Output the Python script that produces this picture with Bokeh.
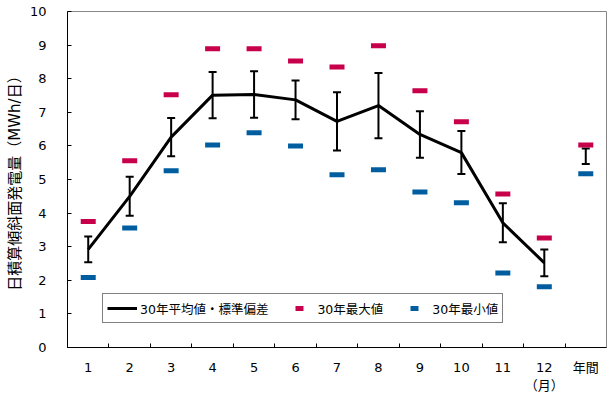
from bokeh.plotting import figure
from bokeh.models import (ColumnDataSource, Whisker, TeeHead, FixedTicker,
                          Legend, LegendItem, Range1d)
from bokeh.embed import file_html
from bokeh.resources import INLINE

# ---- data ----
categories = ["1", "2", "3", "4", "5", "6", "7", "8", "9", "10", "11", "12\n（月）", "年間"]
mean_vals = [2.92, 4.50, 6.26, 7.51, 7.53, 7.37, 6.73, 7.20, 6.34, 5.80, 3.71, 2.52, 5.69]
std_vals = [0.38, 0.58, 0.57, 0.69, 0.69, 0.58, 0.87, 0.97, 0.69, 0.64, 0.58, 0.40, 0.23]
max_vals = [3.75, 5.56, 7.52, 8.89, 8.89, 8.53, 8.35, 8.98, 7.64, 6.72, 4.57, 3.26, 6.03]
min_vals = [2.08, 3.56, 5.26, 6.03, 6.39, 6.00, 5.14, 5.29, 4.63, 4.31, 2.22, 1.81, 5.17]
y_ticks = [0, 1, 2, 3, 4, 5, 6, 7, 8, 9, 10]
n_months = 12

RED = "#C8004B"
BLUE = "#005EA0"
FONT = "DejaVu Sans, Noto Sans CJK JP"

xs = list(range(1, len(categories) + 1))
src = ColumnDataSource(dict(
    x=xs,
    mean=mean_vals,
    upper=[m + s for m, s in zip(mean_vals, std_vals)],
    lower=[m - s for m, s in zip(mean_vals, std_vals)],
    vmax=max_vals,
    vmin=min_vals,
))
line_src = ColumnDataSource(dict(x=xs[:n_months], mean=mean_vals[:n_months]))

p = figure(width=613, height=398, output_backend="svg", toolbar_location=None,
           x_range=Range1d(0.5, len(categories) + 0.5), y_range=Range1d(0, 10),
           min_border_left=67, min_border_right=7, min_border_top=11, min_border_bottom=51)
p.grid.visible = False
p.outline_line_color = "#888888"
p.outline_line_width = 1
p.background_fill_color = "white"
p.border_fill_color = "white"

# mean line
mean_r = p.line("x", "mean", source=line_src, line_color="black", line_width=3)

# error bars
wh = Whisker(base="x", upper="upper", lower="lower", source=src,
             line_color="black", line_width=2,
             upper_head=TeeHead(size=8, line_color="black", line_width=2),
             lower_head=TeeHead(size=8, line_color="black", line_width=2))
p.add_layout(wh)

# max / min markers
max_r = p.scatter("x", "vmax", source=src, marker="dash", size=15,
                  line_color=RED, line_width=5)
min_r = p.scatter("x", "vmin", source=src, marker="dash", size=15,
                  line_color=BLUE, line_width=5)

# y axis
yax = p.yaxis[0]
yax.ticker = FixedTicker(ticks=y_ticks)
yax.major_tick_in = 4
yax.major_tick_out = 0
yax.minor_tick_in = 0
yax.minor_tick_out = 0
yax.major_label_standoff = 21
yax.major_label_text_font = FONT
yax.major_label_text_font_size = "13px"
yax.major_label_text_color = "black"
yax.axis_line_color = "black"
yax.major_tick_line_color = "black"
yax.axis_label = "日積算傾斜面発電量（MWh/日）"
yax.axis_label_text_font = FONT
yax.axis_label_text_font_size = "15px"
yax.axis_label_text_font_style = "normal"
yax.axis_label_text_color = "black"
yax.axis_label_standoff = 3

# x axis
xax = p.xaxis[0]
xax.ticker = FixedTicker(ticks=xs, minor_ticks=[c + 0.5 for c in xs[:-1]])
xax.major_label_overrides = {c: lab for c, lab in zip(xs, categories)}
xax.major_tick_in = 0
xax.major_tick_out = 0
xax.minor_tick_in = 4
xax.minor_tick_out = 0
xax.minor_tick_line_color = "black"
xax.major_label_standoff = 12
xax.major_label_text_font = FONT
xax.major_label_text_font_size = "13px"
xax.major_label_text_color = "black"
xax.axis_line_color = "black"

# legend
legend = Legend(items=[
    LegendItem(label="30年平均値・標準偏差", renderers=[mean_r]),
    LegendItem(label="30年最大値", renderers=[max_r]),
    LegendItem(label="30年最小値", renderers=[min_r]),
], orientation="horizontal", location=(35, 24), margin=0, padding=4,
    spacing=16, glyph_width=30, glyph_height=20, label_height=20,
    label_standoff=3, label_text_font=FONT, label_text_font_size="12.5px",
    label_text_color="black", border_line_color="black", border_line_width=1,
    background_fill_color="white", background_fill_alpha=1)
p.add_layout(legend)

open("out.html", "w").write(file_html(p, INLINE))
